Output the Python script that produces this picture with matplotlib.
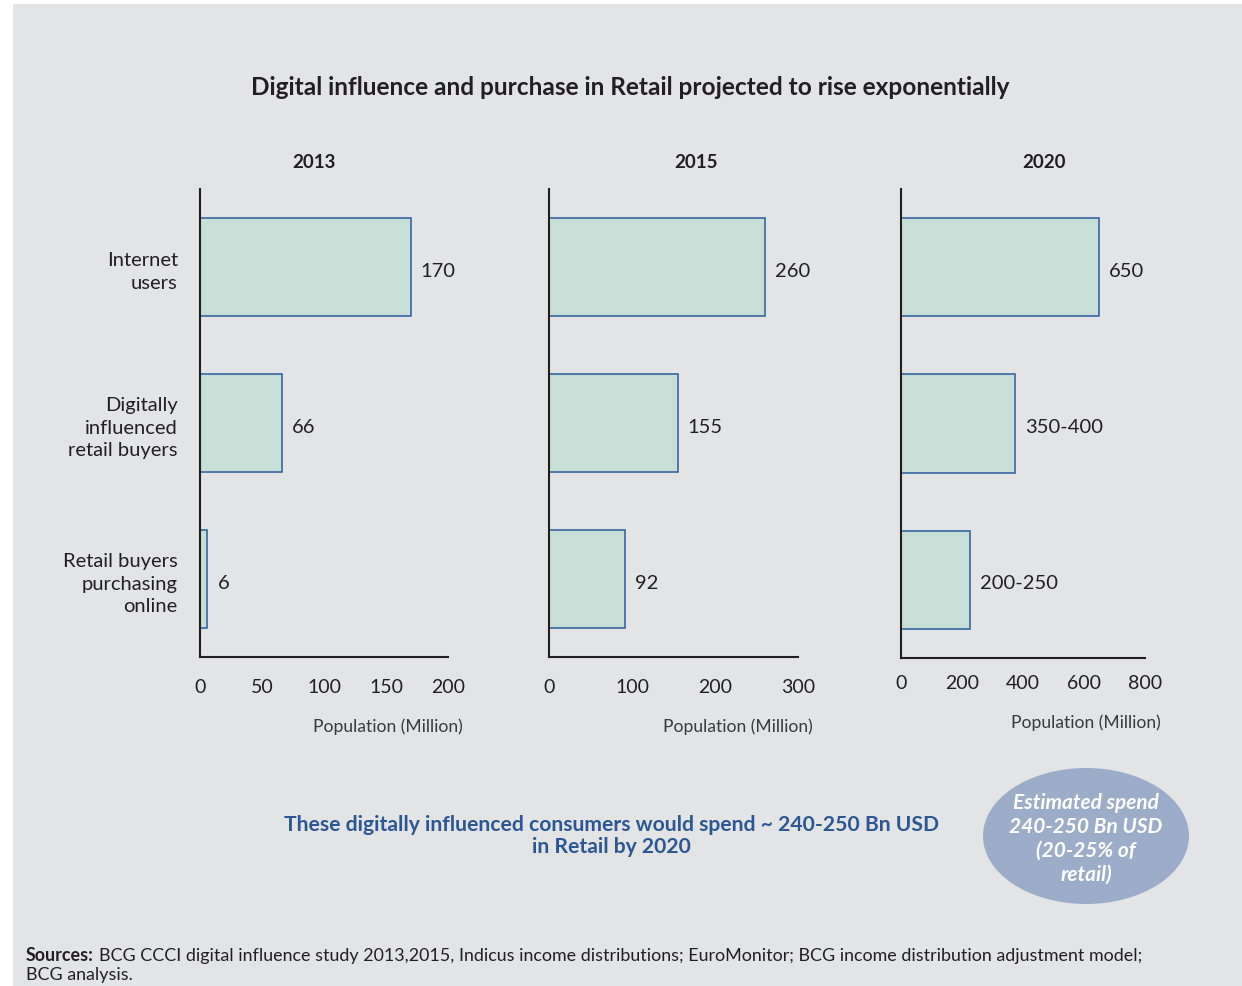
import matplotlib
matplotlib.use("Agg")
import matplotlib.pyplot as plt
from matplotlib.patches import Rectangle, Ellipse

plt.rcParams['font.family'] = ['Lato', 'DejaVu Sans']

# ---- data ----
categories = ["Internet\nusers", "Digitally\ninfluenced\nretail buyers", "Retail buyers\npurchasing\nonline"]
years = ["2013", "2015", "2020"]
values_2013 = [170, 66, 6]
values_2015 = [260, 155, 92]
values_2020 = [650, 375, 225]
labels_2013 = ["170", "66", "6"]
labels_2015 = ["260", "155", "92"]
labels_2020 = ["650", "350-400", "200-250"]
xticks_2013 = [0, 50, 100, 150, 200]
xticks_2015 = [0, 100, 200, 300]
xticks_2020 = [0, 200, 400, 600, 800]

W, H = 1242, 987
fig = plt.figure(figsize=(W / 100, H / 100), dpi=100)
fig.patch.set_facecolor("white")
BG = "#e3e4e6"
fig.add_artist(Rectangle((13 / W, 0), 1 - 13 / W, (H - 5) / H, transform=fig.transFigure,
                         facecolor=BG, edgecolor="none", zorder=0))

def fx(px):
    return px / W

def fy(py):
    return 1 - py / H

TEXT = "#231f20"
BAR_FILL = "#c7dfd7"
BAR_EDGE = "#2b5c9b"

panels = [
    (years[0], values_2013, labels_2013, xticks_2013, 200, 448, 658, 190, 688, 727, 463, 314),
    (years[1], values_2015, labels_2015, xticks_2015, 549, 798, 658, 190, 688, 727, 813, 696),
    (years[2], values_2020, labels_2020, xticks_2020, 901, 1145, 659, 190, 684, 723, 1161, 1044),
]

for i, (yr, vals, labs, ticks, l, r, b, t, tick_y, xl_y, xl_r, yr_x) in enumerate(panels):
    ax = fig.add_axes([fx(l), fy(b), fx(r) - fx(l), fy(t) - fy(b)])
    ax.set_facecolor("none")
    ypos = list(range(len(categories)))
    ax.barh(ypos, vals, height=0.63, color=BAR_FILL, edgecolor=BAR_EDGE, linewidth=1.1, zorder=2)
    ax.set_ylim(len(categories) - 0.5, -0.5)
    ax.set_xlim(ticks[0], ticks[-1])
    for s in ["top", "right"]:
        ax.spines[s].set_visible(False)
    for s in ["left", "bottom"]:
        ax.spines[s].set_linewidth(1.5)
        ax.spines[s].set_color(TEXT)
        ax.spines[s].set_zorder(3)
    ax.set_xticks(ticks)
    ax.set_xticklabels([str(v) for v in ticks])
    pad_pt = (tick_y - b - 9) * 0.72
    ax.tick_params(axis="x", length=0, pad=pad_pt, labelsize=14, labelcolor=TEXT)
    if i == 0:
        ax.set_yticks(ypos)
        ax.set_yticklabels(categories, fontsize=14.5, color=TEXT, ha="right",
                           linespacing=1.38)
        ax.tick_params(axis="y", length=0, pad=16)
    else:
        ax.set_yticks([])
    span = ticks[-1] - ticks[0]
    for y, v, lab in zip(ypos, vals, labs):
        ax.text(v + span * 10 / (r - l), y + 0.02, lab, va="center", ha="left",
                fontsize=14.5, color=TEXT)
    # year title
    fig.text(fx(yr_x), fy(163), yr,
             ha="center", va="center", fontsize=13.5, fontweight="bold", color=TEXT)
    # xlabel
    fig.text(fx(xl_r), fy(xl_y), "Population (Million)", ha="right", va="center",
             fontsize=12.6, color="#3a3a3a")

fig.text(fx(630), fy(88), "Digital influence and purchase in Retail projected to rise exponentially",
         ha="center", va="center", fontsize=17.6, fontweight="bold", color=TEXT)

fig.text(fx(611), fy(836),
         "These digitally influenced consumers would spend ~ 240-250 Bn USD\nin Retail by 2020",
         ha="center", va="center", fontsize=15.2, fontweight="bold", color="#2b5793",
         linespacing=1.145)

ell = Ellipse((fx(1086), fy(837)), fx(206), 136 / H, transform=fig.transFigure,
              facecolor="#9badc9", edgecolor="none", zorder=1)
fig.add_artist(ell)
fig.text(fx(1086), fy(839), "Estimated spend\n240-250 Bn USD\n(20-25% of\nretail)",
         ha="center", va="center", fontsize=15, fontweight="bold", style="italic",
         color="white", linespacing=1.24, zorder=2)

# sources
SRC_FS = 12.9
t1 = fig.text(fx(26), fy(956), "Sources:", ha="left", va="center", fontsize=SRC_FS,
              fontweight="bold", color=TEXT)
fig.canvas.draw()
bb = t1.get_window_extent()
fig.text(bb.x1 / W + 5 / W, fy(956),
         "BCG CCCI digital influence study 2013,2015, Indicus income distributions; EuroMonitor; BCG income distribution adjustment model;",
         ha="left", va="center", fontsize=SRC_FS, color=TEXT)
fig.text(fx(26), fy(975), "BCG analysis.", ha="left", va="center", fontsize=SRC_FS, color=TEXT)

fig.savefig("out.png", dpi=100, facecolor=fig.get_facecolor())
